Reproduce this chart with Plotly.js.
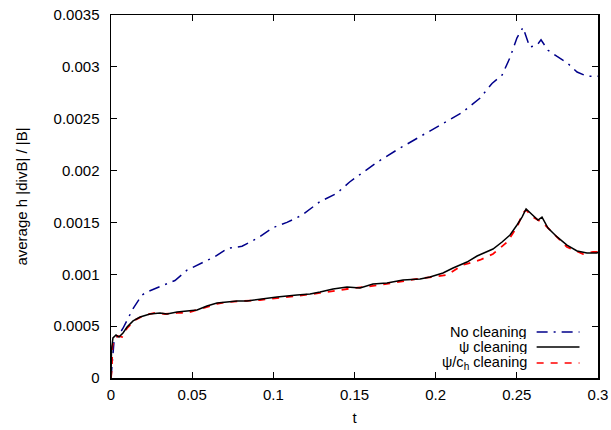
<!DOCTYPE html>
<html>
<head>
<meta charset="utf-8">
<script src="https://cdn.plot.ly/plotly-3.0.1.min.js"></script>
<style>html,body{margin:0;padding:0;background:#fff;}#chart{width:611px;height:430px;}</style>
</head>
<body>
<div id="chart"></div>
<script>
// No cleaning
var tNo = [0, 0.0006, 0.002, 0.005, 0.0074, 0.0136, 0.0191, 0.0222, 0.0283, 0.035, 0.0394, 0.0468, 0.0536, 0.064, 0.072, 0.0807, 0.0905, 0.0998, 0.1084, 0.1176, 0.1287, 0.139, 0.147, 0.155, 0.1639, 0.1762, 0.1885, 0.2014, 0.207, 0.2163, 0.2274, 0.2347, 0.2409, 0.2458, 0.2501, 0.2538, 0.258, 0.2624, 0.2649, 0.2692, 0.2748, 0.2809, 0.2871, 0.2932, 0.3];
var vNo = [0, 0.00013, 0.00038, 0.00042, 0.00048, 0.00067, 0.0008, 0.00083, 0.00087, 0.00091, 0.00094, 0.00104, 0.00109, 0.00117, 0.00125, 0.00127, 0.00135, 0.00145, 0.0015, 0.00157, 0.0017, 0.00178, 0.00189, 0.00198, 0.00208, 0.0022, 0.00231, 0.00242, 0.00247, 0.00256, 0.0027, 0.00284, 0.00292, 0.00309, 0.00328, 0.00338, 0.00319, 0.00321, 0.00326, 0.00316, 0.0031, 0.00304, 0.00295, 0.00291, 0.00291];

// psi cleaning
var tPsi = [0, 0.0003, 0.0012, 0.0031, 0.0049, 0.0074, 0.0099, 0.0136, 0.0179, 0.024, 0.0302, 0.0345, 0.0407, 0.0468, 0.053, 0.0591, 0.0653, 0.0715, 0.0776, 0.0838, 0.0918, 0.1023, 0.1146, 0.1226, 0.1288, 0.1368, 0.1454, 0.1534, 0.1614, 0.17, 0.1799, 0.1904, 0.1965, 0.2045, 0.2107, 0.2193, 0.2255, 0.2316, 0.2353, 0.2409, 0.2458, 0.2501, 0.2532, 0.2557, 0.2594, 0.263, 0.2655, 0.2692, 0.2748, 0.2809, 0.2871, 0.2932, 0.2994, 0.3];
var vPsi = [0, 0.00027, 0.000386, 0.000415, 0.000395, 0.000434, 0.000492, 0.00055, 0.000588, 0.000617, 0.000627, 0.000617, 0.000636, 0.000646, 0.000656, 0.000694, 0.000723, 0.000733, 0.000742, 0.000742, 0.000762, 0.000781, 0.0008, 0.00081, 0.000829, 0.000858, 0.000877, 0.000868, 0.000906, 0.000916, 0.000945, 0.000955, 0.000974, 0.001012, 0.001061, 0.001118, 0.001176, 0.001215, 0.001244, 0.001311, 0.001379, 0.001475, 0.001552, 0.00163, 0.001572, 0.001523, 0.001552, 0.001446, 0.00136, 0.001282, 0.001225, 0.001205, 0.001205, 0.001215];

// psi/c_h cleaning
var tCh = [0, 0.0006, 0.0008, 0.0018, 0.0043, 0.0068, 0.0099, 0.0148, 0.0209, 0.0271, 0.0333, 0.0407, 0.0468, 0.053, 0.0591, 0.0653, 0.0715, 0.0838, 0.0918, 0.1023, 0.1146, 0.1288, 0.1454, 0.1657, 0.1885, 0.207, 0.2168, 0.2273, 0.2353, 0.244, 0.2501, 0.2538, 0.2557, 0.26, 0.2661, 0.2723, 0.2809, 0.2908, 0.2969, 0.3];
var vCh = [0, 0.000106, 0.0003, 0.000366, 0.000405, 0.000395, 0.000482, 0.000559, 0.000607, 0.000627, 0.000617, 0.000627, 0.000627, 0.000656, 0.000685, 0.000714, 0.000733, 0.000742, 0.000752, 0.000771, 0.00079, 0.00082, 0.000858, 0.000897, 0.000955, 0.000993, 0.00109, 0.001138, 0.001196, 0.001311, 0.001456, 0.001591, 0.00162, 0.001552, 0.001494, 0.001398, 0.001263, 0.001196, 0.001215, 0.001215];

var seriesNames = ['No cleaning', 'ψ cleaning', 'ψ/c<sub>h</sub> cleaning'];
var xTicks = [0, 0.05, 0.1, 0.15, 0.2, 0.25, 0.3];
var xTickText = ['0', '0.05', '0.1', '0.15', '0.2', '0.25', '0.3'];
var yTicks = [0, 0.0005, 0.001, 0.0015, 0.002, 0.0025, 0.003, 0.0035];
var yTickText = ['0', '0.0005', '0.001', '0.0015', '0.002', '0.0025', '0.003', '0.0035'];

var colors = ['#00008b', '#000000', '#ff0000'];
var dashes = ['11px,6px,2px,6px', 'solid', '7px,7px'];

var traces = [
  {x: tNo, y: vNo, name: seriesNames[0], mode: 'lines', line: {color: colors[0], width: 1.5, dash: dashes[0]}},
  {x: tCh, y: vCh, name: seriesNames[2], mode: 'lines', line: {color: colors[2], width: 1.8, dash: dashes[2]}},
  {x: tPsi, y: vPsi, name: seriesNames[1], mode: 'lines', line: {color: colors[1], width: 1.5, dash: dashes[1]}}
];

var fontFam = 'Liberation Sans, Arial, sans-serif';
var fs = 15;
// gnuplot-style key (text right-aligned, sample to the right)
var keyY = [0.127, 0.0854, 0.0413];
var annotations = [], shapes = [];
for (var i = 0; i < 3; i++) {
  annotations.push({xref: 'paper', yref: 'paper', x: 0.857, y: keyY[i], xanchor: 'right', yanchor: 'middle',
    text: seriesNames[i], showarrow: false, height: 14, borderpad: 0, valign: 'middle',
    font: {family: fontFam, size: 14.5, color: '#000'}});
  shapes.push({type: 'line', xref: 'paper', yref: 'paper', x0: 0.874, x1: 0.962, y0: keyY[i], y1: keyY[i],
    line: {color: colors[i], width: 1.5, dash: dashes[i]}});
}

var layout = {
  width: 611, height: 430,
  margin: {l: 111, r: 13, t: 15, b: 52},
  paper_bgcolor: '#fff', plot_bgcolor: '#fff',
  showlegend: false,
  font: {family: fontFam, size: fs, color: '#000'},
  xaxis: {
    range: [0, 0.3], tickvals: xTicks, ticktext: xTickText,
    ticks: 'inside', ticklen: 6, tickcolor: '#000', tickwidth: 1,
    ticklabelstandoff: 2,
    showline: true, linecolor: '#000', linewidth: 1.5, mirror: 'ticks',
    showgrid: false, zeroline: false,
    title: {text: 't', font: {family: fontFam, size: fs}, standoff: 11}
  },
  yaxis: {
    range: [0, 0.0035], tickvals: yTicks, ticktext: yTickText,
    ticks: 'inside', ticklen: 6, tickcolor: '#000', tickwidth: 1,
    ticklabelstandoff: 7,
    showline: true, linecolor: '#000', linewidth: 1.5, mirror: 'ticks',
    showgrid: false, zeroline: false,
    title: {text: 'average h |divB| / |B|', font: {family: fontFam, size: fs}, standoff: 22}
  },
  annotations: annotations,
  shapes: shapes
};

Plotly.newPlot('chart', traces, layout, {displayModeBar: false, staticPlot: true});
</script>
</body>
</html>
